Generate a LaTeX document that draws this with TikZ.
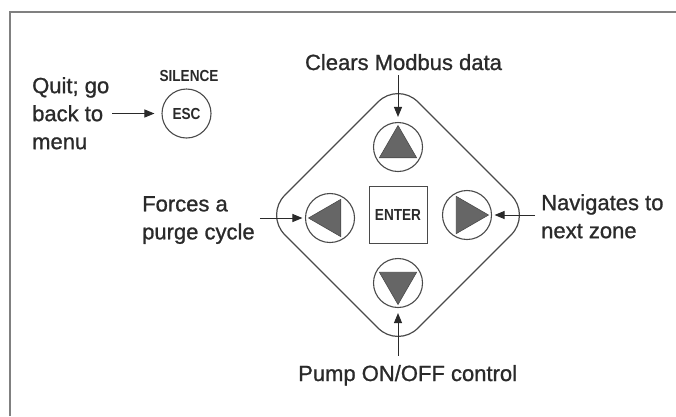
\documentclass[tikz,border=0pt]{standalone}
\usepackage{fontspec}
\setmainfont{Liberation Sans}
\newfontfamily\labelfont[FakeBold=1]{Liberation Sans}
\newfontfamily\condfont[FakeStretch=0.85]{Liberation Sans Bold}
\usetikzlibrary{arrows.meta,shapes.geometric}
\definecolor{ink}{HTML}{2A2A2A}
\definecolor{lineink}{HTML}{4A4A4A}
\definecolor{trifill}{HTML}{666666}
\definecolor{framegray}{HTML}{808080}
\begin{document}
\begin{tikzpicture}[x=1pt,y=-1pt,
  lbl/.style={font=\labelfont\fontsize{22}{28}\selectfont, text=ink, inner sep=0pt, align=left},
  small/.style={font=\condfont\fontsize{16}{18}\selectfont, text=ink, inner sep=0pt},
  btn/.style={circle, draw=lineink, line width=1.1pt, minimum size=49pt, inner sep=0pt},
  tri/.style={regular polygon, regular polygon sides=3, minimum size=43pt, inner sep=0pt,
              fill=trifill, draw=lineink, line width=0.6pt},
  arr/.style={-{Triangle[length=10pt,width=8pt]}, draw=ink, line width=1pt},
  framestyle/.style={draw=framegray, line width=2pt}]
\useasboundingbox (0,0) rectangle (676,416);
% frame
\draw[framestyle] (10,416) -- (10,12) -- (676,12);
% keypad outline
\draw[lineink, line width=1.2pt, rounded corners=28pt]
  (331.5,148.5) -- (398,82) -- (531,215) -- (398,348) -- (265,215) -- cycle;
% buttons
\node[btn] (up) at (398,147) {};
\node[tri] (uptri) at (398,147) {};
\node[btn] (down) at (398,283) {};
\node[tri, shape border rotate=180] (downtri) at (398,283) {};
\node[btn] (left) at (330,218) {};
\node[tri, shape border rotate=90] (lefttri) at (330,218) {};
\node[btn] (right) at (467,215) {};
\node[tri, shape border rotate=-90] (righttri) at (467,215) {};
\node[draw=lineink, line width=1pt, minimum width=58pt, minimum height=57pt, inner sep=0pt,
      font=\condfont\fontsize{16}{18}\selectfont, text=ink] (enter) at (398,215) {ENTER};
% ESC
\node[btn, font=\condfont\fontsize{16}{18}\selectfont, text=ink] (esc) at (186.5,113.5) {ESC};
\node[small] (silence) at (189,76) {SILENCE};
% labels
\node[lbl, anchor=base] (clears) at (403.5,70) {Clears Modbus data};
\node[lbl, anchor=base west] (pump) at (298,381) {Pump ON/OFF control};
\node[lbl, anchor=north west] (quit) at (32,77) {Quit; go\\back to\\menu};
\node[lbl, anchor=north west] (forces) at (142,196) {Forces a\\purge cycle};
\node[lbl, anchor=north west] (nav) at (541,194) {Navigates to\\next zone};
% arrows
\draw[arr, shorten <=5pt, shorten >=5pt] (clears.south -| up.north) -- (up.north);
\draw[arr, shorten <=9pt, shorten >=5pt] (pump.north -| down.south) -- (down.south);
\draw[arr, shorten <=5pt, shorten >=2.5pt] (forces.east |- left.west) -- (left.west);
\draw[arr, shorten <=6pt, shorten >=2.5pt] (nav.west |- right.east) -- (right.east);
\draw[arr, shorten <=3pt, shorten >=7pt] (quit.east |- esc.west) -- (esc.west);
\end{tikzpicture}
\end{document}
